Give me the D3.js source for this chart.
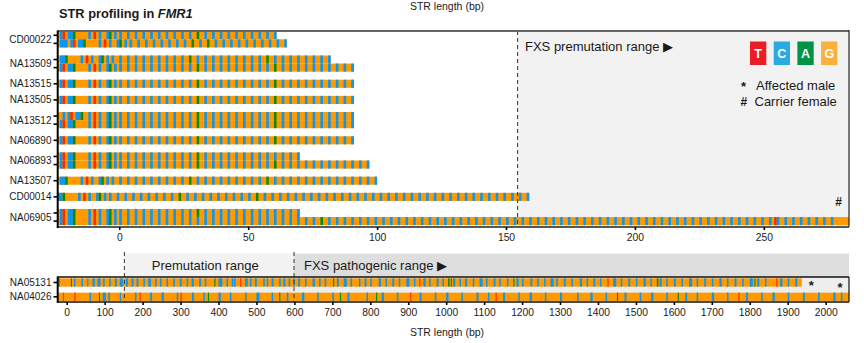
<!DOCTYPE html>
<html><head><meta charset="utf-8">
<script src="https://cdn.jsdelivr.net/npm/d3@7"></script>
<style>
body{margin:0;background:#fff;}
svg text{font-family:"Liberation Sans", Arial, Helvetica, sans-serif;fill:#1a1a1a;}
</style></head><body>
<svg id="chart" width="864" height="343"></svg>
<script>
// ---- nucleotide colours ----
const baseColor = {G:"#ff9900", C:"#0a96f5", A:"#0a8a0a", T:"#ff2a00"};
const legendBases = ["T","C","A","G"];
const legendColors = ["#ed1c24","#29abe2","#009245","#fbb03b"];

// ---- reads, short panel (notation: (CGG)n = repeated motif, plain tokens literal) ----
const readStart = -24;
const flank = "GCTGCCAGGGGGCGTGCGGCAGCG";
const alleleSample = ["CD00022","CD00022","NA13509","NA13509","NA13515","NA13505",
  "NA13512","NA13512","NA06890","NA06893","NA06893","NA13507","CD00014","NA06905","NA06905"];
const alleleSeq = [
  flank + " (CGG)10 AGG (CGG)9 C",
  "GCCC" + flank + " (CGG)8 AGG CGG AGG (CGG)9 C",
  "GCCAGGGGGCGTGCGGCAGCG (CGG)10 AGG (CGG)9 AGG (CGG)7 C",
  flank + " (CGG)10 AGG (CGG)9 AGG (CGG)9 C",
  flank + " (CGG)10 AGG (CGG)9 AGG (CGG)9 C",
  flank + " (CGG)10 AGG (CGG)9 AGG (CGG)9 C",
  "GGCGCTGCCAGGCGTGCGGCAGCG (CGG)10 AGG (CGG)9 AGG (CGG)9 C",
  flank + " (CGG)10 AGG (CGG)9 AGG (CGG)9 C",
  flank + " (CGG)10 AGG (CGG)9 AGG (CGG)9 C",
  flank + " (CGG)10 AGG (CGG)12 C",
  flank + " (CGG)10 AGG (CGG)9 AGG (CGG)11 C",
  "GCCAGGGGGCGTGCGGCAGCG (CGG)10 AGG (CGG)9 AGG (CGG)13 C",
  "CCAGGGGGCGTGCGGCAGCG (CGG)9 AGG (CGG)9 AGG (CGG)34 C",
  flank + " (CGG)10 AGG (CGG)12 C",
  flank + " (CGG)26 AGG (CGG)57 CGT (CGG)8 GGGGGG (CGG)10"
];
const shortTicks = [0, 50, 100, 150, 200, 250];
const premutationShort = 154.5;

// ---- long reads: total length and visible non-G marks (bp:base:width) ----
const longSample = ["NA05131","NA04026"];
const longLength = [1937, 2075];
const longMarks = [
  "-22C4 11A3 19C4 39C4 54C3 68C6 81C8 96C4 112C4 127C5 140C8 156C5 171C5 184C5 202C4 215C7 233C4 246C4 263C4 281C4 298C5 316C4 329C6 349C5 364C4 389A3 400C10 421C4 435C4 441C4 457T3 470C7 483C4 496C5 518C4 527C4 540C5 560C4 571C5 585C4 597C4 610C5 628C4 648C6 665C4 680C4 702A3 712C5 730C8 748C4 770C4 785C5 800C4 822C6 840C4 858C5 875C4 895C8 915C4 929T3 940C6 955C4 975C5 990C4 1005A4 1012A3 1018C6 1035C4 1050C5 1070C4 1088C8 1105C4 1125C5 1140C4 1160C4 1177A3 1185C6 1200C4 1222C5 1240C4 1258C4 1275C8 1290C4 1310C5 1330C4 1352C6 1370C4 1388C5 1405C4 1425T3 1440C8 1460C4 1480C5 1500C4 1520C6 1538C4 1555A4 1562C6 1580C4 1600C5 1620C4 1640C8 1660C4 1680C5 1700C4 1720C6 1740C4 1760C5 1780C4 1800C8 1812A3 1820C5 1840C4 1870T3 1880C6 1900C4 1920C5",
  "-10C3 20T3 60C4 85A3 95C8 110C4 140C3 180C4 192T3 220C5 250C6 290C4 300T3 330C5 360C4 372A3 400C6 430C4 470C4 500C8 540C4 560A3 580C4 620C6 660C4 700C4 720A3 740C5 790C4 815A3 830C6 870C4 905T3 930C5 970C4 1000C6 1040C4 1080C5 1110C4 1130T3 1150C5 1190C4 1220C6 1260C4 1300C5 1345C4 1380C6 1420C4 1450A3 1470C5 1510C4 1540C6 1580C4 1610A3 1630C5 1660C4 1700C6 1740C4 1770T3 1790C5 1830C4 1860C6 1900C4 1940C5 1980C4 2020C6 2040C4"
];
const longTicks = d3.range(0, 2001, 100);
const premutationLong = 152;
const pathogenicLong = 599;

// ---- sample annotations ----
const markSample = ["NA06905","NA05131","NA04026"];
const markSymbol = ["#","*","*"];
const markBp = [279, 1962, 2038];

// ---------------------------------------------------------------
const svg = d3.select("#chart");
const L = 57.7, R = 849;
const fmt = d3.format("d");

function expand(notation) {
  return notation.split(/\s+/).filter(Boolean).map(tok => {
    const m = tok.match(/^\(([ACGT]+)\)(\d+)$/);
    return m ? m[1].repeat(+m[2]) : tok;
  }).join("");
}
function runs(seq, start) {
  const out = [];
  for (let i = 0; i < seq.length;) {
    let j = i;
    while (j < seq.length && seq[j] === seq[i]) j++;
    out.push({base: seq[i], from: start + i, to: start + j});
    i = j;
  }
  return out;
}
function parseMarks(str) {
  return str.split(/\s+/).map(t => {
    const m = t.match(/^(-?\d+)([ACGT])(\d+)$/);
    return {from: +m[1], base: m[2], to: +m[1] + +m[3]};
  });
}

const defs = svg.append("defs");
defs.append("clipPath").attr("id","clipTop").append("rect")
  .attr("x", L).attr("y", 31).attr("width", R - L).attr("height", 196);
defs.append("clipPath").attr("id","clipBot").append("rect")
  .attr("x", L).attr("y", 277).attr("width", R - L).attr("height", 25);

// ================= short-read panel =================
const xTop = d3.scaleLinear().domain([-24, 283]).range([57.4, 848.9]);
const slots = [];
let s = -2;
alleleSample.forEach((d, i) => { s += (i > 0 && alleleSample[i-1] === d) ? 1 : 2; slots.push(s); });
const yTop = d3.scaleLinear().domain([0, d3.max(slots)]).range([35.3, 221.1]);
const bhTop = 8.1;

svg.append("text").attr("x", 59).attr("y", 18.3)
  .attr("font-size", 12.8).attr("font-weight", "bold")
  .text("STR profiling in ")
  .append("tspan").attr("font-style", "italic").text("FMR1");
svg.append("text").attr("x", 447).attr("y", 9.5).attr("text-anchor","middle")
  .attr("font-size", 10.5).text("STR length (bp)");

svg.append("rect").attr("x", xTop(premutationShort)).attr("y", 31)
  .attr("width", R - xTop(premutationShort)).attr("height", 196).attr("fill", "#f2f2f2");

const gTop = svg.append("g").attr("clip-path", "url(#clipTop)");
alleleSeq.forEach((note, i) => {
  const seq = expand(note);
  const y = yTop(slots[i]) - bhTop / 2;
  const g = gTop.append("g");
  g.append("rect").attr("x", xTop(readStart)).attr("y", y)
    .attr("width", xTop(readStart + seq.length) - xTop(readStart)).attr("height", bhTop)
    .attr("fill", baseColor.G);
  g.selectAll("rect.b").data(runs(seq, readStart).filter(r => r.base !== "G"))
    .join("rect").attr("class","b")
    .attr("x", r => xTop(r.from)).attr("y", y)
    .attr("width", r => xTop(r.to) - xTop(r.from)).attr("height", bhTop)
    .attr("fill", r => baseColor[r.base]);
});

svg.append("line").attr("x1", xTop(premutationShort)).attr("x2", xTop(premutationShort))
  .attr("y1", 31).attr("y2", 227).attr("stroke", "#333").attr("stroke-width", 1)
  .attr("stroke-dasharray", "4,3");

// frame
svg.append("line").attr("x1", L).attr("x2", R).attr("y1", 31).attr("y2", 31)
  .attr("stroke", "#666").attr("stroke-width", 2);
svg.append("line").attr("x1", R).attr("x2", R).attr("y1", 30).attr("y2", 227)
  .attr("stroke", "#222").attr("stroke-width", 1.2);

// x axis
const axTop = svg.append("g").attr("transform", "translate(0,227)")
  .call(d3.axisBottom(xTop).tickValues(shortTicks).tickFormat(fmt).tickSize(3).tickPadding(2).tickSizeOuter(0));
axTop.select(".domain").attr("stroke", "#222").attr("stroke-width", 1.6).attr("d", `M${L},0H${R}`);
axTop.selectAll(".tick line").attr("stroke", "#000").attr("stroke-width", 1.6);
axTop.selectAll(".tick text").attr("font-size", 10.3).attr("font-family", null).attr("fill", "#1a1a1a").attr("dy", "0.85em");

// y axis
svg.append("line").attr("x1", L).attr("x2", L).attr("y1", 30.5).attr("y2", 228)
  .attr("stroke", "#000").attr("stroke-width", 2);
svg.append("g").selectAll("line").data(slots).join("line")
  .attr("x1", 53.5).attr("x2", L).attr("y1", d => yTop(d)).attr("y2", d => yTop(d))
  .attr("stroke", "#000").attr("stroke-width", 1.6);
const sampleNames = Array.from(new Set(alleleSample));
svg.append("g").selectAll("text").data(sampleNames).join("text")
  .attr("x", 51.5)
  .attr("y", n => d3.mean(slots.filter((v, i) => alleleSample[i] === n), yTop))
  .attr("dy", "0.35em").attr("text-anchor", "end").attr("font-size", 10)
  .text(n => n);

// annotations
svg.append("text").attr("x", 525).attr("y", 51.3).attr("font-size", 13)
  .text("FXS premutation range \u25B6");
const lg = svg.append("g");
legendBases.forEach((b, i) => {
  const x = 750 + i * 23.7;
  lg.append("rect").attr("x", x).attr("y", 41.5).attr("width", 16.3).attr("height", 23.5)
    .attr("fill", legendColors[i]);
  lg.append("text").attr("x", x + 8.15).attr("y", 57.5).attr("text-anchor", "middle")
    .attr("font-size", 12.5).attr("font-weight", "bold").style("fill", "#fff").text(b);
});
svg.append("text").attr("x", 741).attr("y", 91).attr("font-size", 13).attr("font-weight","bold").text("*");
svg.append("text").attr("x", 756).attr("y", 89.5).attr("font-size", 13).text("Affected male");
svg.append("text").attr("x", 740.5).attr("y", 106).attr("font-size", 12).attr("font-weight","bold").text("#");
svg.append("text").attr("x", 754.5).attr("y", 106).attr("font-size", 13).text("Carrier female");

// ================= long-read panel =================
const xBot = d3.scaleLinear().domain([-24, 2061.5]).range([57.6, 849]);
const yBot = d3.scaleLinear().domain([0, 1]).range([282.5, 296.8]);
const bhBot = 8.3;

svg.append("rect").attr("x", xBot(premutationLong)).attr("y", 253.5)
  .attr("width", xBot(pathogenicLong) - xBot(premutationLong)).attr("height", 23.5).attr("fill", "#f2f2f2");
svg.append("rect").attr("x", xBot(pathogenicLong)).attr("y", 253.5)
  .attr("width", R - xBot(pathogenicLong)).attr("height", 23.5).attr("fill", "#dedede");
svg.append("rect").attr("x", xBot(premutationLong)).attr("y", 277)
  .attr("width", R - xBot(premutationLong)).attr("height", 25).attr("fill", "#eeeeee");
svg.append("text").attr("x", (xBot(premutationLong) + xBot(pathogenicLong)) / 2 - 4).attr("y", 270.3)
  .attr("text-anchor", "middle").attr("font-size", 13).text("Premutation range");
svg.append("text").attr("x", xBot(pathogenicLong) + 10).attr("y", 270.3)
  .attr("font-size", 13).text("FXS pathogenic range \u25B6");

const gBot = svg.append("g").attr("clip-path", "url(#clipBot)");
longSample.forEach((name, i) => {
  const y = yBot(i) - bhBot / 2;
  const g = gBot.append("g");
  g.append("rect").attr("x", xBot(readStart)).attr("y", y)
    .attr("width", xBot(longLength[i]) - xBot(readStart)).attr("height", bhBot)
    .attr("fill", baseColor.G);
  g.selectAll("rect.b").data(parseMarks(longMarks[i])).join("rect").attr("class","b")
    .attr("x", r => xBot(r.from)).attr("y", y)
    .attr("width", r => xBot(r.to) - xBot(r.from)).attr("height", bhBot)
    .attr("fill", r => baseColor[r.base]);
});

[premutationLong, pathogenicLong].forEach(v => {
  svg.append("line").attr("x1", xBot(v)).attr("x2", xBot(v)).attr("y1", 252).attr("y2", 302)
    .attr("stroke", "#333").attr("stroke-width", 1).attr("stroke-dasharray", "4,3");
});

svg.append("line").attr("x1", L).attr("x2", R).attr("y1", 277).attr("y2", 277)
  .attr("stroke", "#111").attr("stroke-width", 1.4);
svg.append("line").attr("x1", R).attr("x2", R).attr("y1", 277).attr("y2", 302)
  .attr("stroke", "#111").attr("stroke-width", 1.2);
svg.append("line").attr("x1", L).attr("x2", L).attr("y1", 276.5).attr("y2", 303)
  .attr("stroke", "#000").attr("stroke-width", 2);

const axBot = svg.append("g").attr("transform", "translate(0,302)")
  .call(d3.axisBottom(xBot).tickValues(longTicks).tickFormat(fmt).tickSize(3).tickPadding(2).tickSizeOuter(0));
axBot.select(".domain").attr("stroke", "#111").attr("stroke-width", 1.6).attr("d", `M${L},0H${R}`);
axBot.selectAll(".tick line").attr("stroke", "#000").attr("stroke-width", 1.6);
axBot.selectAll(".tick text").attr("font-size", 10.3).attr("font-family", null).attr("fill", "#1a1a1a").attr("dy", "0.85em");

svg.append("g").selectAll("line").data(longSample).join("line")
  .attr("x1", 53.5).attr("x2", L).attr("y1", (d, i) => yBot(i)).attr("y2", (d, i) => yBot(i))
  .attr("stroke", "#000").attr("stroke-width", 1.6);
svg.append("g").selectAll("text").data(longSample).join("text")
  .attr("x", 51.5).attr("y", (d, i) => yBot(i)).attr("dy", "0.35em")
  .attr("text-anchor", "end").attr("font-size", 10).text(d => d);

svg.append("text").attr("x", 447).attr("y", 335.5).attr("text-anchor","middle")
  .attr("font-size", 10.5).text("STR length (bp)");

// per-sample symbols
markSample.forEach((name, i) => {
  let x, y;
  if (alleleSample.includes(name)) {
    x = xTop(markBp[i]);
    y = yTop(d3.max(slots.filter((v, k) => alleleSample[k] === name))) - 15;
  } else {
    const r = longSample.indexOf(name);
    x = xBot(markBp[i]);
    y = yBot(r) + (r === 0 ? 7.5 : -4.5);
  }
  svg.append("text").attr("x", x).attr("y", y).attr("text-anchor", "middle")
    .attr("font-size", markSymbol[i] === "#" ? 12 : 13).attr("font-weight", "bold")
    .text(markSymbol[i]);
});
</script>
</body></html>
